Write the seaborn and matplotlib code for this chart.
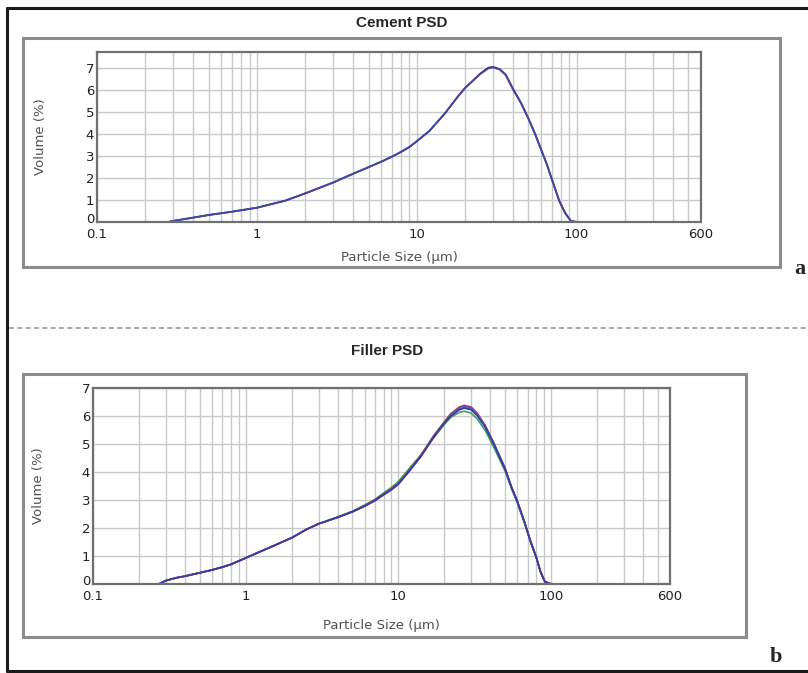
import matplotlib
matplotlib.use("Agg")
import matplotlib.pyplot as plt
import seaborn as sns
import pandas as pd
from matplotlib.lines import Line2D
from matplotlib.patches import Rectangle
import matplotlib.transforms as mtransforms

# ---------------- data ----------------
cement_x = [0.1, 0.2, 0.28, 0.3, 0.4, 0.5, 0.7, 1, 1.5, 2, 3, 4, 5, 6, 7, 8, 9, 10,
            12, 15, 18, 20, 25, 28, 30, 33, 36, 40, 45, 50, 55, 60, 65, 70, 78, 85,
            92, 100, 200, 600]
cement_run1 = [0, 0, 0, 0.05, 0.2, 0.32, 0.47, 0.65, 0.97, 1.3, 1.8, 2.2, 2.5, 2.75,
               2.98, 3.2, 3.42, 3.68, 4.15, 4.95, 5.7, 6.1, 6.75, 7.0, 7.05, 6.95,
               6.7, 6.05, 5.4, 4.7, 4.0, 3.3, 2.65, 1.95, 0.95, 0.4, 0.05, 0, 0, 0]
cement_run2 = [0, 0, 0, 0.05, 0.2, 0.32, 0.47, 0.65, 0.97, 1.3, 1.8, 2.2, 2.5, 2.75,
               2.98, 3.2, 3.42, 3.68, 4.15, 4.95, 5.7, 6.1, 6.77, 7.03, 7.07, 6.97,
               6.72, 6.07, 5.42, 4.72, 4.02, 3.3, 2.65, 1.95, 0.95, 0.4, 0.05, 0, 0, 0]

filler_x = [0.1, 0.2, 0.27, 0.3, 0.35, 0.4, 0.5, 0.6, 0.7, 0.8, 1, 1.2, 1.5, 2, 2.5,
            3, 4, 5, 6, 7, 8, 9, 10, 12, 14, 17, 20, 22, 25, 27, 30, 33, 37, 42, 50,
            55, 60, 67, 73, 80, 85, 91, 100, 200, 600]
filler_run1 = [0, 0, 0, 0.12, 0.22, 0.28, 0.4, 0.5, 0.6, 0.7, 0.93, 1.12, 1.35, 1.65,
               1.95, 2.15, 2.38, 2.58, 2.78, 2.98, 3.2, 3.38, 3.58, 4.1, 4.55, 5.25,
               5.75, 6.0, 6.22, 6.28, 6.22, 6.0, 5.6, 5.0, 4.1, 3.45, 2.95, 2.2, 1.55,
               0.95, 0.45, 0.08, 0, 0, 0]
filler_run2 = [0, 0, 0, 0.12, 0.22, 0.28, 0.4, 0.5, 0.6, 0.7, 0.93, 1.12, 1.35, 1.65,
               1.95, 2.15, 2.38, 2.58, 2.8, 3.0, 3.22, 3.4, 3.6, 4.12, 4.6, 5.3,
               5.8, 6.08, 6.32, 6.38, 6.32, 6.08, 5.66, 5.05, 4.12, 3.47, 2.96, 2.2,
               1.55, 0.95, 0.45, 0.08, 0, 0, 0]
filler_run3 = [0, 0, 0, 0.12, 0.22, 0.28, 0.4, 0.5, 0.6, 0.7, 0.93, 1.12, 1.35, 1.65,
               1.95, 2.15, 2.4, 2.6, 2.82, 3.02, 3.25, 3.45, 3.66, 4.18, 4.6, 5.22,
               5.7, 5.95, 6.13, 6.17, 6.1, 5.88, 5.48, 4.9, 4.02, 3.4, 2.9, 2.16,
               1.52, 0.93, 0.44, 0.08, 0, 0, 0]
filler_run4 = [0, 0, 0, 0.12, 0.22, 0.28, 0.4, 0.5, 0.6, 0.7, 0.93, 1.12, 1.35, 1.65,
               1.95, 2.15, 2.38, 2.58, 2.78, 2.97, 3.18, 3.36, 3.56, 4.08, 4.55, 5.24,
               5.78, 6.05, 6.3, 6.36, 6.3, 6.06, 5.65, 5.04, 4.12, 3.46, 2.95, 2.2,
               1.55, 0.95, 0.45, 0.08, 0, 0, 0]
filler_run5 = [0, 0, 0, 0.12, 0.22, 0.28, 0.4, 0.5, 0.6, 0.7, 0.93, 1.12, 1.35, 1.65,
               1.95, 2.15, 2.38, 2.58, 2.78, 2.98, 3.2, 3.38, 3.58, 4.1, 4.56, 5.26,
               5.76, 6.02, 6.25, 6.32, 6.26, 6.03, 5.62, 5.02, 4.1, 3.45, 2.95, 2.2,
               1.55, 0.95, 0.45, 0.08, 0, 0, 0]

x_major = [0.1, 1, 10, 100, 600]
x_major_labels = ["0.1", "1", "10", "100", "600"]
x_minor = [0.2, 0.3, 0.4, 0.5, 0.6, 0.7, 0.8, 0.9,
           2, 3, 4, 5, 6, 7, 8, 9,
           20, 30, 40, 50, 60, 70, 80, 90,
           200, 300, 400, 500]
y_ticks = [0, 1, 2, 3, 4, 5, 6, 7]

cement_df = pd.concat([
    pd.DataFrame({"size": cement_x, "vol": cement_run2, "run": "r2"}),
    pd.DataFrame({"size": cement_x, "vol": cement_run1, "run": "r1"}),
])
filler_df = pd.concat([
    pd.DataFrame({"size": filler_x, "vol": filler_run3, "run": "r3"}),
    pd.DataFrame({"size": filler_x, "vol": filler_run2, "run": "r2"}),
    pd.DataFrame({"size": filler_x, "vol": filler_run4, "run": "r4"}),
    pd.DataFrame({"size": filler_x, "vol": filler_run5, "run": "r5"}),
    pd.DataFrame({"size": filler_x, "vol": filler_run1, "run": "r1"}),
])

# ---------------- figure ----------------
sns.set_style("white")
plt.rcParams["font.family"] = ["DejaVu Sans"]

W, H = 808, 673
fig = plt.figure(figsize=(W / 100, H / 100), dpi=100)


def fx(px):
    return px / W


def fy(py):
    return 1 - py / H


# outer black frame (left, top, bottom)
for xs, ys in [([7, 7], [8, 671]), ([7, 808], [8, 8]), ([7, 808], [671, 671])]:
    fig.add_artist(Line2D([fx(v) for v in xs], [fy(v) for v in ys],
                          color="#1a1a1a", lw=2.2, transform=fig.transFigure))

# dashed separator
fig.add_artist(Line2D([fx(9), fx(808)], [fy(328), fy(328)], color="#9a9a9a",
                      lw=1.2, ls=(0, (3, 2)), transform=fig.transFigure))

# grey panel boxes
for (x0, y0, x1, y1) in [(23, 38, 780, 267), (23, 374, 746, 637)]:
    fig.add_artist(Rectangle((fx(x0), fy(y1)), fx(x1) - fx(x0), fy(y0) - fy(y1),
                             fill=False, edgecolor="#8c8c8c", lw=2.2,
                             transform=fig.transFigure))


def style_axes(ax, ytop, ylabel_x, xlabel_y):
    ax.set_xscale("log")
    ax.set_xlim(0.1, 600)
    ax.set_ylim(0, ytop)
    ax.set_xticks(x_major)
    ax.set_xticklabels(x_major_labels)
    ax.set_xticks(x_minor, minor=True)
    ax.set_xticklabels([], minor=True)
    ax.set_yticks(y_ticks)
    ax.set_yticklabels([str(v) for v in y_ticks])
    ax.grid(True, which="both", axis="x", color="#c8c8c8", lw=1.0)
    ax.grid(True, which="major", axis="y", color="#c8c8c8", lw=1.0)
    ax.set_axisbelow(True)
    ax.tick_params(axis="both", which="both", length=0, labelsize=9.5,
                   labelcolor="#202020", pad=2)
    ax.tick_params(axis="x", pad=4)
    # lift the "0" of the y axis a touch so it sits just above "0.1"
    lab0 = ax.get_yticklabels()[0]
    lab0.set_transform(lab0.get_transform() +
                       mtransforms.ScaledTranslation(0, 3 / 72, fig.dpi_scale_trans))
    for s in ax.spines.values():
        s.set_color("#707070")
        s.set_linewidth(1.6)
    ax.set_xlabel("Particle Size (µm)", fontsize=9.5, color="#505050")
    ax.set_ylabel("Volume (%)", fontsize=9.5, color="#505050")
    ax.xaxis.set_label_coords(0.5, xlabel_y)
    ax.yaxis.set_label_coords(ylabel_x, 0.5)


# top panel
ax1 = fig.add_axes([fx(97), fy(222), fx(701) - fx(97), fy(52) - fy(222)])
sns.lineplot(data=cement_df, x="size", y="vol", hue="run",
             palette=["#2a2a5a", "#4646a8"], lw=1.3, ax=ax1, legend=False)
style_axes(ax1, 7.75, -0.083, -0.17)

# bottom panel
ax2 = fig.add_axes([fx(93), fy(584), fx(670) - fx(93), fy(388) - fy(584)])
sns.lineplot(data=filler_df, x="size", y="vol", hue="run",
             palette=["#3aa060", "#c04040", "#8a3aa0", "#4a6ad0", "#3a3a9a"],
             lw=1.2, ax=ax2, legend=False)
style_axes(ax2, 7, -0.083, -0.179)

# titles
fig.text(fx(402), fy(23), "Cement PSD", ha="center", va="center",
         fontsize=11, fontweight="bold", family=["Liberation Sans Narrow", "Liberation Sans"])
fig.text(fx(387), fy(351), "Filler PSD", ha="center", va="center",
         fontsize=11, fontweight="bold", family=["Liberation Sans Narrow", "Liberation Sans"])

# panel letters
fig.text(fx(800), fy(269), "a", ha="center", va="center", fontsize=16,
         fontweight="bold", family=["Liberation Serif"])
fig.text(fx(776), fy(657), "b", ha="center", va="center", fontsize=16,
         fontweight="bold", family=["Liberation Serif"])

fig.savefig("out.png", dpi=100)
